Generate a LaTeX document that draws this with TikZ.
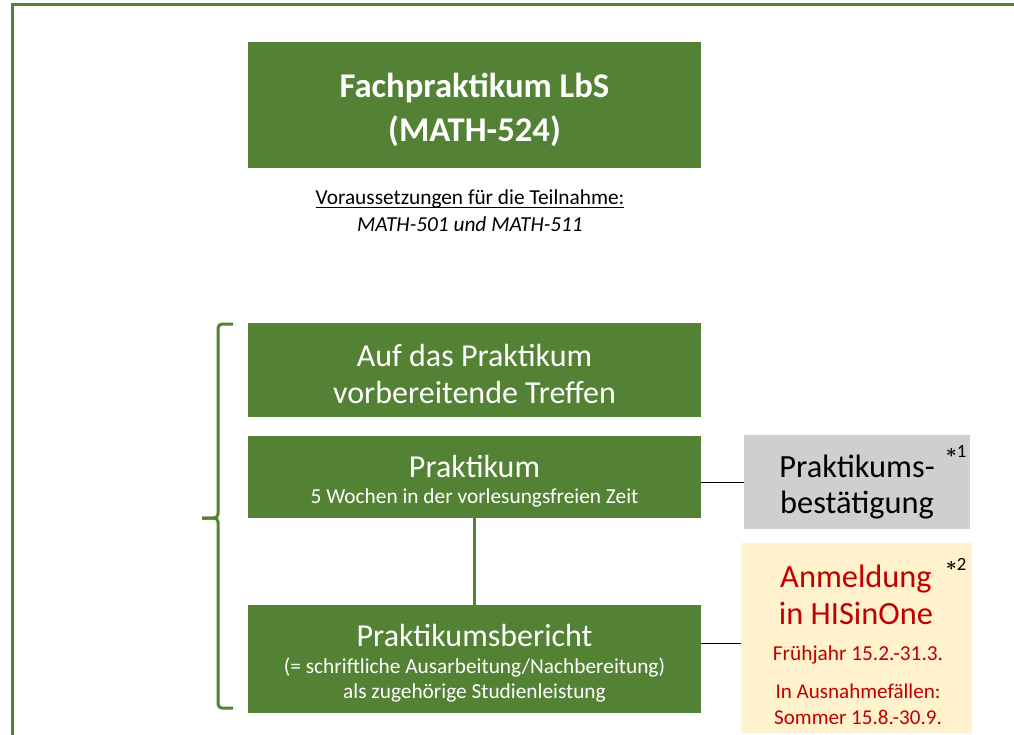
\documentclass[tikz,border=0pt]{standalone}
\usepackage{fontspec}
\setmainfont{Carlito}
\usepackage{tikz}

\definecolor{lbsgreen}{HTML}{548235}
\definecolor{lbsgray}{HTML}{D0CECE}
\definecolor{lbsyellow}{HTML}{FFF2CC}
\definecolor{lbsred}{HTML}{C00000}

\newcommand{\lbsunderline}[1]{\leavevmode\setbox0=\hbox{#1}\rlap{\rule[-2.4pt]{\wd0}{1.1pt}}\box0}

\tikzset{
    greenbox/.style={fill=lbsgreen, inner sep=0pt, minimum width=339.75pt},
    boxtext/.style={text=white, align=center, inner sep=0pt},
    bigtext/.style={font=\fontsize{24}{27.75}\selectfont},
    smalltext/.style={font=\fontsize{16}{18.75}\selectfont},
    note/.style={font=\fontsize{14}{16}\selectfont, inner sep=0pt},
    link/.style={lbsgreen, line width=2.25pt},
    thinline/.style={black, line width=0.75pt}
}

\begin{document}
\begin{tikzpicture}[x=0.75pt, y=-0.75pt]
    \useasboundingbox (0,0) rectangle (1014,735);
    \clip (0,0) rectangle (1014,735);

    % Frame
    \draw[lbsgreen, line width=2.25pt] (12,740) |- (1020,5);

    % Module box
    \node[greenbox, minimum height=94.5pt] (modul) at (474.5,105) {};
    \node[boxtext, font=\bfseries\fontsize{26}{33}\selectfont] (modultext) at (474.5,110)
        {Fachpraktikum LbS\\(MATH-524)};
    \node[align=center, font=\fontsize{16}{20.25}\selectfont, inner sep=0pt] (voraus) at (470,211)
        {\lbsunderline{Voraussetzungen für die Teilnahme:}\\\textit{MATH-501 und MATH-511}};

    % Steps of the Praktikum
    \node[greenbox, minimum height=70.5pt] (treffen) at (474.5,370) {};
    \node[boxtext, bigtext] (treffentext) at (474.5,374)
        {Auf das Praktikum\\vorbereitende Treffen};

    \node[greenbox, minimum height=61.5pt] (praktikum) at (474.5,477) {};
    \node[boxtext, bigtext] (praktikumtext) at (474.5,467) {Praktikum};
    \node[boxtext, smalltext] (wochen) at (474.5,498)
        {5 Wochen in der vorlesungsfreien Zeit};

    \node[greenbox, minimum height=81pt] (bericht) at (474.5,659) {};
    \node[boxtext, bigtext] (berichttext) at (474.5,636) {Praktikumsbericht};
    \node[boxtext, smalltext] (leistung) at (474.5,680)
        {(= schriftliche Ausarbeitung/Nachbereitung)\\als zugehörige Studienleistung};

    % Brace
    \draw[link, rounded corners=3pt] (233,324) -| (218,518) -- (202,518);
    \draw[link, rounded corners=3pt] (202,518) -- (218,518) |- (233,708);

    % Side boxes
    \node[fill=lbsgray, minimum width=169.5pt, minimum height=70.5pt, inner sep=0pt]
        (bestaet) at (857,482) {};
    \node[align=center, inner sep=0pt, font=\fontsize{24.3}{27}\selectfont] (bestaettext)
        at (857,487) {Praktikums-\\bestätigung};
    \node[note] (stern1) at (956,451) {{\boldmath$\ast$}1};

    \node[fill=lbsyellow, minimum width=173.25pt, minimum height=142.5pt, inner sep=0pt]
        (anmeldung) at (856.5,638) {};
    \node[align=center, inner sep=0pt, text=lbsred, font=\fontsize{24.3}{27.75}\selectfont]
        (anmeldungtext) at (856,595) {Anmeldung\\in HISinOne};
    \node[align=center, inner sep=0pt, text=lbsred, font=\fontsize{16}{19.5}\selectfont]
        (fruehjahr) at (858,655) {Frühjahr 15.2.-31.3.};
    \node[align=center, inner sep=0pt, text=lbsred, font=\fontsize{15.8}{19.5}\selectfont]
        (ausnahme) at (858,704) {In Ausnahmefällen:\\Sommer 15.8.-30.9.};
    \node[note] (stern2) at (956,564) {{\boldmath$\ast$}2};

    % Connections
    \draw[link] (praktikum) -- (bericht);
    \draw[thinline] (bestaet.west) -- (bestaet.west -| praktikum.east);
    \draw[thinline] ([yshift=-3.75pt]anmeldung.west) -- ([yshift=-3.75pt]anmeldung.west -| bericht.east);
\end{tikzpicture}
\end{document}
